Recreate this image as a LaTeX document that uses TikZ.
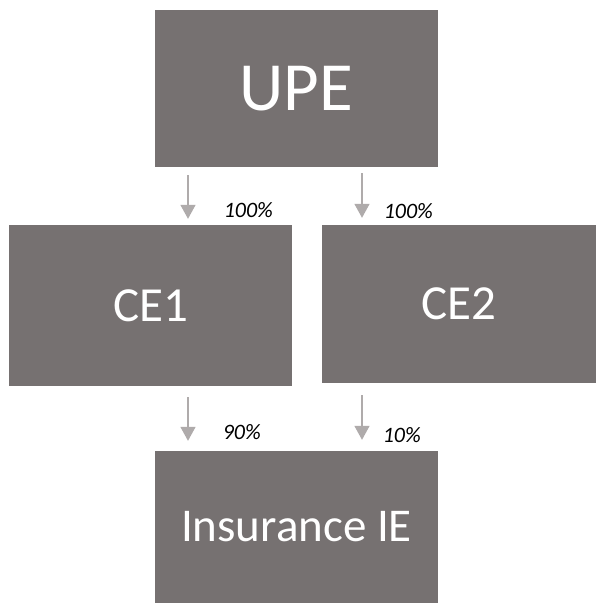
\documentclass[tikz,border=0pt]{standalone}
\usepackage{fontspec}
\setmainfont{Carlito}
\usetikzlibrary{arrows.meta,positioning}
\definecolor{boxgray}{HTML}{767171}
\definecolor{arrowgray}{HTML}{AFABAB}
\tikzset{
    entity/.style={rectangle,fill=boxgray,text=white,inner sep=0pt},
    share/.style={draw=arrowgray,line width=1.5pt,-{Triangle[width=15pt,length=14pt]}},
    pct/.style={font=\fontsize{22}{26}\selectfont\itshape,anchor=base west,inner sep=0pt}
}
\newcommand\drawshare[5]{%
    \draw [share,shorten <=#3,shorten >=#4] (#1) -- (#2) node [pct] at #5}

\begin{document}
\begin{tikzpicture}[x=1pt,y=-1pt]
            \useasboundingbox (0,0) rectangle (596,603);
            \node[entity,minimum width=283pt,minimum height=157pt,font=\fontsize{69}{80}\selectfont] (upe) at (296.5,88.5) {UPE};
            \node[entity,minimum width=283pt,minimum height=161pt,font=\fontsize{49}{58}\selectfont] (ce1) at (150.5,305.5) {CE1};
            \node[entity,minimum width=274pt,minimum height=158pt,font=\fontsize{49}{58}\selectfont] (ce2) at (459,304) {CE2};
            \node[entity,minimum width=283pt,minimum height=152pt,font=\fontsize{47}{56}\selectfont] (ins) at (296.5,527) {\raisebox{-3pt}{Insurance IE}};
            \drawshare{[xshift=-108.5pt]upe.south}{[xshift=37.5pt]ce1.north}{8pt}{6pt}{(223,217) {100\%}};
            \drawshare{[xshift=65.5pt]upe.south}{[xshift=-97pt]ce2.north}{6pt}{7pt}{(383,218) {100\%}};
            \drawshare{[xshift=37.5pt]ce1.south}{[xshift=-108.5pt]ins.north}{11pt}{10pt}{(222,439) {90\%}};
            \drawshare{[xshift=-97pt]ce2.south}{[xshift=65.5pt]ins.north}{12pt}{11pt}{(382,442) {10\%}};
        \end{tikzpicture}
\end{document}
